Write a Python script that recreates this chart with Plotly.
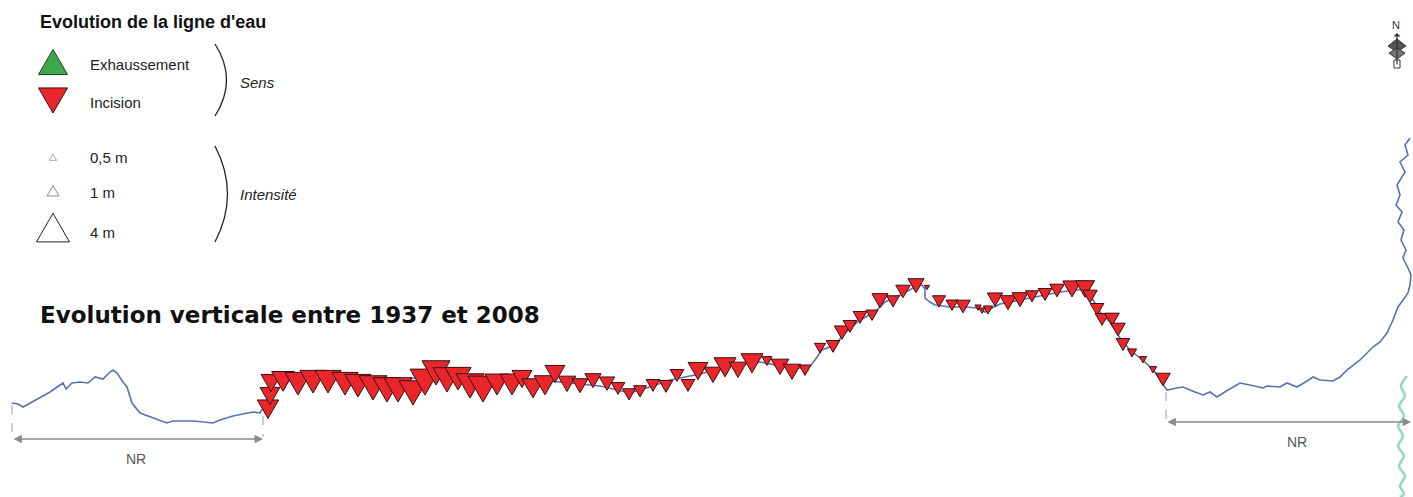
import plotly.graph_objects as go

# ---------------- data (pixel-like map coordinates of the long profile) ----------------
river_x = [12, 18, 23, 35, 50, 63, 66, 68, 72, 80, 88, 95, 103, 110, 113, 117, 120, 123, 127, 132, 140, 153, 167, 173,
           193, 213, 220, 233, 247, 253, 260, 265, 268, 272, 280, 300, 340, 380, 420, 460, 500, 540, 570, 600, 630,
           650, 670, 700, 730, 760, 790, 800, 810, 815, 822, 835, 845, 860, 875, 885, 900, 915, 922, 925, 925, 930,
           935, 950, 965, 978, 985, 990, 1000, 1020, 1045, 1060, 1085, 1092, 1100, 1110, 1120, 1130, 1145, 1155,
           1162, 1167, 1177, 1183, 1195, 1203, 1210, 1217, 1228, 1240, 1250, 1263, 1267, 1280, 1287, 1297, 1307,
           1313, 1320, 1333, 1340, 1347, 1360, 1373, 1380, 1387, 1393, 1398, 1403, 1408, 1410, 1411, 1408, 1403,
           1406, 1401, 1404, 1398, 1402, 1396, 1400, 1397, 1405, 1400, 1408, 1405, 1410]
river_y = [403, 404, 407, 400, 392, 383, 389, 387, 383, 382, 383, 377, 379, 372, 370, 373, 378, 382, 387, 403, 413, 418,
           423, 421, 421, 423, 420, 416, 413, 412, 413, 405, 395, 380, 376, 378, 377, 380, 378, 378, 380, 380, 383,
           386, 393, 387, 380, 374, 366, 362, 368, 368, 366, 360, 350, 345, 333, 320, 312, 302, 295, 287, 285, 289,
           298, 302, 305, 307, 307, 308, 312, 309, 304, 300, 295, 292, 289, 298, 312, 322, 338, 350, 362, 372, 383,
           390, 388, 387, 392, 395, 392, 397, 390, 383, 385, 388, 386, 387, 383, 387, 381, 377, 380, 381, 377, 370,
           360, 347, 342, 333, 320, 307, 300, 293, 285, 275, 268, 258, 250, 240, 230, 222, 212, 205, 195, 185, 172,
           162, 155, 145, 138]

trib_x = [1407, 1401, 1405, 1399, 1404, 1398, 1403, 1398, 1404, 1399, 1405, 1400, 1404, 1400]
trib_y = [376, 386, 396, 406, 416, 426, 436, 446, 456, 466, 476, 486, 494, 497]

# incision markers: position along profile and intensity (m)
inc_x = [268, 270, 271, 283, 298, 313, 328, 345, 358, 373, 387, 398, 413, 425, 436, 447, 458, 470, 483, 497,
         512, 522, 533, 545, 555, 567, 580, 593, 607, 618, 629, 640, 653, 666, 677, 688, 698, 713, 725, 738,
         752, 767, 780, 792, 805, 820, 833, 842, 850, 860, 872, 880, 893, 903, 916, 927, 939, 952, 963, 978,
         982, 988, 995, 1008, 1020, 1032, 1045, 1057, 1072, 1085, 1090, 1097, 1102, 1112, 1118, 1123, 1132,
         1143, 1153, 1163]
inc_y = [407, 394, 381, 379, 381, 379, 379, 381, 383, 385, 387, 387, 390, 379, 370, 377, 376, 383, 386, 382,
         382, 377, 386, 383, 372, 382, 384, 379, 382, 387, 393, 390, 384, 385, 374, 384, 369, 373, 365, 368,
         361, 360, 365, 370, 369, 347, 345, 331, 325, 316, 314, 299, 300, 290, 284, 287, 300, 304, 305, 307,
         310, 309, 298, 301, 298, 295, 293, 289, 287, 287, 295, 308, 318, 318, 328, 343, 352, 359, 369, 378]
inc_m = [2.2, 2.0, 2.0, 2.4, 2.9, 2.9, 2.9, 2.9, 2.9, 3.2, 3.2, 3.2, 3.2, 3.5, 3.2, 3.2, 2.9, 3.2, 3.5, 2.6,
         2.6, 2.0, 2.3, 2.3, 2.0, 1.7, 1.5, 1.5, 1.4, 1.2, 1.1, 1.1, 1.2, 1.2, 1.2, 1.2, 2.0, 1.7, 2.3, 1.7,
         2.3, 0.8, 1.7, 1.7, 1.0, 0.9, 1.2, 1.4, 1.2, 1.2, 1.0, 1.5, 1.1, 1.3, 1.5, 0.3, 1.1, 1.0, 1.3, 0.4,
         0.4, 0.7, 1.4, 1.5, 1.5, 1.1, 1.2, 1.3, 1.8, 1.9, 1.3, 1.2, 1.2, 1.3, 1.3, 1.2, 0.7, 0.5, 0.5, 1.3]

legend_sens = ["Exhaussement", "Incision"]
legend_m = [0.5, 1, 4]
legend_m_labels = ["0,5 m", "1 m", "4 m"]


def mwidth(m):
    # symbol width (px) as a function of intensity (m)
    return 12.0 * m ** 0.73


RED = "#e8262b"
EDGE = "#3a0f0f"
BLUE = "#5a72b3"

fig = go.Figure()


def triangle(x, y, w, up, fill, edge, lw=1.0):
    """Equilateral triangle symbol anchored at (x, y), width w."""
    h = 0.866 * w
    if up:
        base, apex = y + 0.33 * w, y + 0.33 * w - h
    else:
        base, apex = y - 0.33 * w, y - 0.33 * w + h
    fig.add_trace(go.Scatter(x=[x - w / 2, x + w / 2, x, x - w / 2], y=[base, base, apex, base],
                             mode="lines", fill="toself", fillcolor=fill,
                             line=dict(color=edge, width=lw), hoverinfo="skip"))


# river (long profile)
fig.add_trace(go.Scatter(x=river_x, y=river_y, mode="lines",
                         line=dict(color=BLUE, width=1.6), hoverinfo="skip"))
# tributary
fig.add_trace(go.Scatter(x=trib_x, y=trib_y, mode="lines",
                         line=dict(color="#97d7c2", width=2.6, shape="spline"), hoverinfo="skip"))
# incision symbols
for xx, yy, m in zip(inc_x, inc_y, inc_m):
    triangle(xx, yy, mwidth(m), False, RED, EDGE)

# legend: sens
triangle(53, 65, 29, True, "#3aa94a", "#1d3d1d")
triangle(53, 97.5, 29, False, RED, EDGE)
# legend: intensity
leg_y = [158, 192, 231]
leg_line = ["#a8a8a8", "#8a8a8a", "#222222"]
for m, yy, lc in zip(legend_m, leg_y, leg_line):
    triangle(53, yy, mwidth(m), True, "white", lc)

ann = []
F = "Liberation Sans, Arial, sans-serif"


def txt(x, y, text, size=15, color="#222", family=F, anchor="left"):
    ann.append(dict(x=x, y=y, text=text, xanchor=anchor, yanchor="middle", showarrow=False,
                    font=dict(family=family, size=size, color=color)))


txt(38, 22, "<b>Evolution de la ligne d'eau</b>", size=18, color="#111")
for t, yy in zip(legend_sens, [64, 102]):
    txt(88, yy, t)
for t, yy in zip(legend_m_labels, [157, 192, 232]):
    txt(88, yy, t)
txt(238, 82, "<i>Sens</i>")
txt(238, 194, "<i>Intensité</i>")
txt(38, 315, "<b>Evolution verticale entre 1937 et 2008</b>", size=23, color="#111",
    family="DejaVu Sans, Verdana, sans-serif")
txt(136, 459, "NR", size=14, color="#555", anchor="center")
txt(1297, 442, "NR", size=14, color="#555", anchor="center")
txt(1396, 25, "N", size=11, color="#333", anchor="center")

# NR double arrows
for x0, x1, yy in [(12, 263, 439), (1166, 1411, 422)]:
    ann.append(dict(x=x1, y=yy, ax=x0, ay=yy, xref="x", yref="y", axref="x", ayref="y", text="",
                    showarrow=True, arrowhead=2, arrowside="end+start", arrowsize=1.2, arrowwidth=1.4,
                    arrowcolor="#8a8a8a"))
# north arrow
ann.append(dict(x=1397, y=33, ax=1397, ay=66, xref="x", yref="y", axref="x", ayref="y", text="",
                showarrow=True, arrowhead=1, arrowsize=1, arrowwidth=1.2, arrowcolor="#333"))

shapes = []
for x0, y0, y1 in [(12, 405, 437), (263, 416, 437), (1166, 392, 420)]:
    shapes.append(dict(type="line", x0=x0, x1=x0, y0=y0, y1=y1, xref="x", yref="y",
                       line=dict(color="#9a9a9a", width=1, dash="dash")))
# legend braces
shapes.append(dict(type="path", path="M 215 44 Q 238 80 215 116", xref="x", yref="y",
                   line=dict(color="#222", width=1.3)))
shapes.append(dict(type="path", path="M 215 146 Q 240 194 215 242", xref="x", yref="y",
                   line=dict(color="#222", width=1.3)))
# north arrow body
shapes.append(dict(type="path", path="M 1388 46 L 1397 39 L 1406 46 L 1397 52 Z", xref="x", yref="y",
                   fillcolor="#555", line=dict(color="#333", width=1)))
shapes.append(dict(type="path", path="M 1389 53 L 1397 48 L 1405 53 L 1397 59 Z", xref="x", yref="y",
                   fillcolor="#777", line=dict(color="#333", width=1)))
shapes.append(dict(type="rect", x0=1394, x1=1400, y0=60, y1=68, xref="x", yref="y",
                   fillcolor="white", line=dict(color="#333", width=1)))

fig.update_layout(
    width=1413, height=497, margin=dict(l=0, r=0, t=0, b=0),
    paper_bgcolor="white", plot_bgcolor="white", showlegend=False,
    xaxis=dict(range=[0, 1413], visible=False, fixedrange=True),
    yaxis=dict(range=[497, 0], visible=False, fixedrange=True),
    annotations=ann, shapes=shapes,
)

fig.write_html("out.html", config={"displayModeBar": False},
               post_script="document.body.style.margin='0';document.body.style.overflow='hidden';")
